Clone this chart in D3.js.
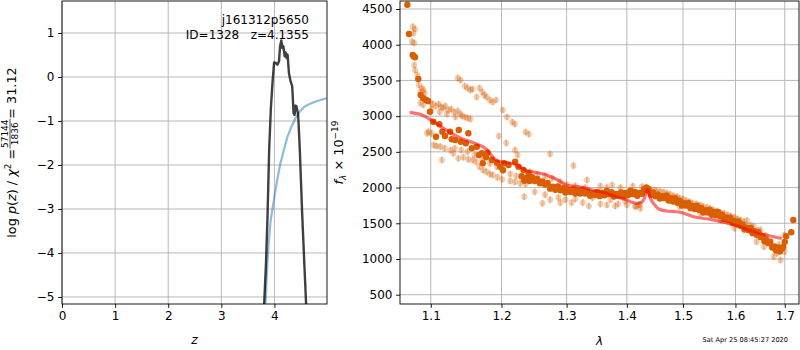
<!DOCTYPE html>
<html><head><meta charset="utf-8">
<script src="https://cdn.jsdelivr.net/npm/d3@7/dist/d3.min.js"></script>
<style>
body{margin:0;background:#fff}
svg{display:block}
text{font-family:"DejaVu Sans",sans-serif;fill:#000}
</style>
</head><body>
<svg id="c" width="800" height="350"></svg>
<script>
// ---------------- data ----------------
// left panel: log p(z) curve (z, value)
const pzZ   = [3.78,3.807,3.839,3.870,3.901,3.932,3.963,3.994,4.025,4.056,4.087,4.106,4.130,4.149,4.168,4.193,4.211,4.230,4.248,4.273,4.304,4.335,4.348,4.360,4.379,4.398,4.416,4.447,4.478,4.522,4.565,4.596,4.62];
const pzVal = [-6.5,-5.15,-4.30,-3.17,-1.65,-0.74,-0.14,0.33,0.32,0.28,0.36,0.70,0.83,0.66,0.70,0.47,0.56,0.43,0.51,0.09,-0.10,-0.21,-0.52,-0.82,-0.86,-0.65,-0.67,-0.86,-1.65,-3.09,-4.30,-5.15,-5.9];
// left panel: prior-like blue curve
const blZ   = [3.81,3.83,3.86,3.89,3.93,3.99,4.05,4.11,4.18,4.24,4.32,4.40,4.48,4.56,4.65,4.75,4.85,4.99];
const blVal = [-6.0,-5.2,-4.4,-3.8,-3.25,-2.80,-2.35,-1.98,-1.65,-1.38,-1.13,-0.93,-0.78,-0.68,-0.62,-0.57,-0.53,-0.48];
const zTicks = [0,1,2,3,4];
const lpTicks = [-5,-4,-3,-2,-1,0,1];

// right panel: dark (good) spectrum points [wavelength (um), flux]
const darkW = [1.0688,1.0710,1.0759,1.0789,1.0770,1.0833,1.0865,1.0900,1.0936,1.0962,1.0990,1.1035,1.1117,1.1158,1.1072,1.1195,1.1265,1.1288,1.1334,1.1386,1.1414,1.1485,1.1521,1.1570,1.1641,1.1670,1.1713,1.1775,1.1794,1.1727,1.1858,1.1932,1.1981,1.2039,1.2020,1.2104,1.2203,1.2253,1.2329,1.2370,1.2405,
1.230,1.234,1.238,1.242,1.246,1.250,1.254,1.258,1.262,1.266,1.270,1.274,1.278,1.282,1.286,1.290,1.294,1.298,1.302,1.306,1.310,1.314,1.318,1.322,1.326,1.330,1.334,1.338,1.342,1.346,1.350,1.354,1.358,1.362,1.366,1.370,1.374,1.378,1.382,1.386,1.390,1.394,1.398,1.402,1.406,1.410,1.414,1.418,1.422,1.426,1.430,1.434,1.436,1.438,1.442,1.446,1.450,1.454,1.458,1.462,1.466,1.470,1.474,1.478,1.482,1.486,1.490,1.494,1.498,1.502,1.506,1.510,1.514,1.518,1.522,1.526,1.530,1.534,1.538,1.542,1.546,1.550,1.554,1.558,1.562,1.566,1.570,1.574,1.578,1.582,1.586,1.590,1.594,1.598,1.602,1.606,1.610,1.614,1.618,1.622,1.626,1.630,1.634,1.638,1.642,1.646,1.650,1.654,1.658,1.662,1.666,1.670,1.674,1.678,1.682,1.686,1.690,1.694,1.697,1.700,1.703,1.7137,1.7179];
const darkF = [4560,4150,3856,3824,3840,3520,3296,3250,3226,3212,3062,2922,2886,2782,2712,2722,2782,2676,2666,2806,2642,2620,2760,2550,2572,2456,2480,2424,2488,2340,2386,2348,2292,2340,2246,2316,2362,2292,2246,2130,2200,
2158,2095,2132,2093,2145,2093,2120,2061,2085,2042,2063,1985,2012,1968,2015,1963,1990,1931,1965,1937,1978,1917,1956,1918,1970,1918,1945,1886,1922,1896,1939,1880,1924,1893,1953,1908,1935,1876,1912,1887,1933,1878,1924,1896,1955,1908,1940,1886,1925,1912,1978,2000,1960,1982,1898,1933,1878,1905,1846,1880,1852,1888,1820,1852,1806,1850,1788,1812,1750,1780,1747,1783,1712,1744,1700,1747,1690,1714,1652,1683,1652,1688,1620,1657,1613,1660,1600,1620,1558,1583,1546,1578,1506,1534,1486,1527,1466,1482,1416,1441,1404,1436,1362,1390,1338,1375,1308,1320,1248,1267,1222,1243,1160,1177,1120,1160,1106,1148,1170,1240,1320,1374,1546];
const darkE = 22;

// right panel: faint (contaminated / other) spectrum points
const lightW = [1.076,1.079,1.077,1.075,1.078,1.078,1.079,1.082,1.084,1.088,1.086,1.090,1.092,1.086,1.090,
1.095,1.099,1.103,1.107,1.111,1.114,1.117,1.120,1.124,1.128,1.132,1.137,1.141,1.143,1.147,1.151,1.155,1.134,1.122,1.112,1.101,1.097,1.095,1.101,
1.137,1.141,1.147,1.151,1.155,1.158,1.164,1.168,1.172,1.175,1.178,1.183,1.187,1.192,1.202,1.208,1.216,1.220,1.236,1.241,1.196,1.207,1.220,1.224,
1.104,1.108,1.113,1.119,1.127,1.131,1.138,1.145,1.152,1.158,1.163,1.168,1.173,1.178,1.183,1.187,1.194,1.201,1.213,1.220,1.228,1.236,1.115,
1.133,1.142,1.151,1.161,1.172,1.183,1.193,1.203,1.213,1.222,
1.274,1.311,1.333,1.375,1.234,1.262,1.290,1.308,1.336,1.366,1.380,1.400,1.415,1.420,
1.243,1.254,1.266,1.277,1.290,1.300,1.314,1.330,1.355,1.366,1.389,1.410,1.250,1.266,1.274,1.287,1.298,1.314,1.326,1.342,1.355,1.372,1.385,1.397,1.415,1.423,
1.426,1.447,1.459,1.471,1.483,1.494,1.506,1.518,1.5325,1.545,1.557,1.571,1.585,1.598,1.610,1.623,1.636,1.650,
1.4235,1.494,1.5325,1.571,1.598,1.617,1.642,1.657,1.677,1.691,1.700,1.699,
1.453,1.465,1.477,1.489,1.500,1.512,1.525,1.538,1.551,1.564,1.578,1.591,1.604,1.617,1.630,1.644,1.660,1.668,1.684,1.688];
const lightF = [4252,4220,4164,4042,4024,3716,3646,3576,3436,3394,3338,3366,3324,3184,3156,
3226,3198,3170,3142,3170,3128,3114,3142,3086,3100,3058,3072,3030,3002,2988,2974,2960,2988,3030,3058,3100,2782,2760,2760,
3534,3506,3422,3394,3366,3380,3268,3394,3338,3296,3268,3226,3198,3226,3086,2988,2918,2890,2778,2750,2722,2624,2526,2456,
2596,2582,2572,2550,2526,2480,2410,2424,2396,2386,2362,2292,2246,2222,2190,2176,2144,2116,2092,2078,2060,2050,2386,
2550,2526,2502,2456,2396,2340,2292,2236,2190,2162,
2470,2306,2106,2036,1872,1780,1788,1788,1742,1756,1742,1756,1732,1756,
2220,2180,2160,2130,2080,2040,2025,2000,2020,2000,2000,2020,1940,1900,1830,1860,1830,1840,1790,1860,1770,1830,1770,1810,1740,1760,
2012,1966,1942,1920,1882,1850,1816,1780,1756,1724,1686,1648,1616,1584,1546,1536,1452,1406,
1710,1732,1640,1546,1430,1406,1242,1172,1032,986,1102,1336,
1950,1935,1905,1870,1840,1800,1770,1735,1705,1670,1640,1600,1560,1520,1470,1400,1330,1230,1080,1200];
const lightE = 50;

// model (red) line
const modW = [1.072,1.086,1.099,1.113,1.127,1.140,1.158,1.173,1.180,1.186,1.193,1.200,1.218,1.238,1.250,1.264,1.274,1.286,1.301,1.322,1.344,1.365,1.385,1.400,1.410,1.418,1.4235,1.430,1.436,1.441,1.447,1.456,1.470,1.488,1.500,1.518,1.554,1.575,1.600,1.620,1.640,1.669,1.694];
const modF = [3054,3025,2955,2860,2770,2700,2630,2570,2520,2440,2380,2360,2335,2236,2215,2190,2155,2106,2030,2008,1960,1920,1865,1826,1790,1780,1788,1840,1975,1850,1775,1700,1672,1662,1645,1595,1552,1520,1472,1425,1372,1322,1287];

const lamTicks = [1.1,1.2,1.3,1.4,1.5,1.6,1.7];
const fTicks = [500,1000,1500,2000,2500,3000,3500,4000,4500];

const title1 = "j161312p5650";
const title2 = "ID=1328\u00a0\u00a0\u00a0z=4.1355";
const stamp = "Sat Apr 25 08:45:27 2020";

// ---------------- drawing ----------------
const svg = d3.select("#c");
const FS = 12;
const minus = d => (d < 0 ? "\u2212" + Math.abs(d) : String(d));

function panel(x0, x1, y0, y1, xs, ys, xt, yt, xfmt, yfmt, clipId) {
  const g = svg.append("g");
  g.append("g").selectAll("line").data(xt).join("line")
    .attr("x1", d => xs(d)).attr("x2", d => xs(d)).attr("y1", y0).attr("y2", y1)
    .attr("stroke", "#b0b0b0").attr("stroke-width", 0.9);
  g.append("g").selectAll("line").data(yt).join("line")
    .attr("y1", d => ys(d)).attr("y2", d => ys(d)).attr("x1", x0).attr("x2", x1)
    .attr("stroke", "#b0b0b0").attr("stroke-width", 0.9);
  const ax = g.append("g").attr("transform", `translate(0,${y1})`)
    .call(d3.axisBottom(xs).tickValues(xt).tickFormat(xfmt).tickSize(3.9).tickPadding(3.6));
  const ay = g.append("g").attr("transform", `translate(${x0},0)`)
    .call(d3.axisLeft(ys).tickValues(yt).tickFormat(yfmt).tickSize(3.9).tickPadding(3.6));
  [ax, ay].forEach(a => {
    a.select(".domain").remove();
    a.selectAll("text").attr("font-size", FS).attr("font-family", "DejaVu Sans").attr("fill", "#000");
    a.selectAll("line").attr("stroke", "#000").attr("stroke-width", 0.9);
  });
  svg.append("defs").append("clipPath").attr("id", clipId)
    .append("rect").attr("x", x0).attr("y", y0).attr("width", x1 - x0).attr("height", y1 - y0);
  const plot = svg.append("g").attr("clip-path", `url(#${clipId})`);
  return {g, plot};
}

// ---- left panel
const L = {x0: 62, x1: 327, y0: 1, y1: 304};
const xL = d3.scaleLinear().domain([0, 4.99]).range([L.x0, L.x1]);
const yL = d3.scaleLinear().domain([-5.16, 1.727]).range([L.y1, L.y0]);
const left = panel(L.x0, L.x1, L.y0, L.y1, xL, yL, zTicks, lpTicks, d => String(d), minus, "clipL");

const line = d3.line();
left.plot.append("path")
  .attr("d", line(blZ.map((z, i) => [xL(z), yL(blVal[i])])))
  .attr("fill", "none").attr("stroke", "#1f77b4").attr("stroke-opacity", 0.5).attr("stroke-width", 2.2);
left.plot.append("path")
  .attr("d", line(pzZ.map((z, i) => [xL(z), yL(pzVal[i])])))
  .attr("fill", "none").attr("stroke", "#000").attr("stroke-opacity", 0.75).attr("stroke-width", 2.4)
  .attr("stroke-linejoin", "round");

left.g.append("rect").attr("x", L.x0).attr("y", L.y0).attr("width", L.x1 - L.x0).attr("height", L.y1 - L.y0)
  .attr("fill", "none").attr("stroke", "#000").attr("stroke-width", 0.9);

svg.append("text").attr("x", 309).attr("y", 24).attr("text-anchor", "end").attr("font-size", FS).text(title1);
svg.append("text").attr("x", 309).attr("y", 39).attr("text-anchor", "end").attr("font-size", FS).text(title2);

svg.append("text").attr("x", (L.x0 + L.x1) / 2).attr("y", 344).attr("text-anchor", "middle")
  .attr("font-size", FS).attr("font-style", "italic").text("z");

// left y label with fraction (rotated)
(function () {
  const F = 12.8;
  const g = svg.append("g").attr("transform", `translate(16,${(L.y0 + L.y1) / 2}) rotate(-90)`);
  const inner = g.append("g");
  const t1 = inner.append("text").attr("font-size", F).attr("x", 0).attr("y", 0);
  t1.append("tspan").text("log ");
  t1.append("tspan").attr("font-style", "italic").text("p");
  t1.append("tspan").text("(");
  t1.append("tspan").attr("font-style", "italic").text("z");
  t1.append("tspan").text(")  /  ");
  t1.append("tspan").attr("font-style", "italic").text("\u03c7");
  t1.append("tspan").attr("font-size", F * 0.7).attr("dy", -5.5).text("2");
  t1.append("tspan").attr("dy", 5.5).text(" = ");
  let w = t1.node().getComputedTextLength();
  const fs2 = F * 0.7;
  const num = inner.append("text").attr("font-size", fs2).attr("y", -7.8).attr("text-anchor", "middle").text("57144");
  const den = inner.append("text").attr("font-size", fs2).attr("y", 2.2).attr("text-anchor", "middle").text("1836");
  const fw = Math.max(num.node().getComputedTextLength(), den.node().getComputedTextLength()) + 1.5;
  num.attr("x", w + fw / 2); den.attr("x", w + fw / 2);
  inner.append("line").attr("x1", w).attr("x2", w + fw).attr("y1", -6).attr("y2", -6)
    .attr("stroke", "#000").attr("stroke-width", 0.7);
  w += fw;
  const t3 = inner.append("text").attr("font-size", F).attr("x", w).text(" = 31.12");
  w += t3.node().getComputedTextLength();
  inner.attr("transform", `translate(${-w / 2},0)`);
})();

// ---- right panel
const R = {x0: 400, x1: 799, y0: 1, y1: 304};
const xR = d3.scaleLog().domain([1.0592, 1.730]).range([R.x0, R.x1]);
const yR = d3.scaleLinear().domain([370, 4612]).range([R.y1, R.y0]);
const right = panel(R.x0, R.x1, R.y0, R.y1, xR, yR, lamTicks, fTicks, d => d3.format(".1f")(d), d => String(d), "clipR");

const col = "#d95f02";
const lightPts = lightW.map((w, i) => [w, lightF[i]]);
const darkPts = darkW.map((w, i) => [w, darkF[i]]);

const lg = right.plot.append("g").attr("opacity", 0.3);
lg.selectAll("line").data(lightPts).join("line")
  .attr("x1", d => xR(d[0])).attr("x2", d => xR(d[0]))
  .attr("y1", d => yR(d[1] - lightE)).attr("y2", d => yR(d[1] + lightE))
  .attr("stroke", col).attr("stroke-width", 1.6);
right.plot.append("g").selectAll("circle").data(lightPts).join("circle")
  .attr("cx", d => xR(d[0])).attr("cy", d => yR(d[1])).attr("r", 3.1)
  .attr("fill", col).attr("fill-opacity", 0.3);

right.plot.append("g").selectAll("line").data(darkPts).join("line")
  .attr("x1", d => xR(d[0])).attr("x2", d => xR(d[0]))
  .attr("y1", d => yR(d[1] - darkE)).attr("y2", d => yR(d[1] + darkE))
  .attr("stroke", col).attr("stroke-width", 1.4);
right.plot.append("g").selectAll("circle").data(darkPts).join("circle")
  .attr("cx", d => xR(d[0])).attr("cy", d => yR(d[1])).attr("r", 3.2)
  .attr("fill", col);

right.plot.append("path")
  .attr("d", d3.line().curve(d3.curveMonotoneX)(modW.map((w, i) => [xR(w), yR(modF[i])])))
  .attr("fill", "none").attr("stroke", "red").attr("stroke-opacity", 0.55).attr("stroke-width", 3.2)
  .attr("stroke-linejoin", "round");

svg.append("rect").attr("x", R.x0).attr("y", R.y0).attr("width", R.x1 - R.x0).attr("height", R.y1 - R.y0)
  .attr("fill", "none").attr("stroke", "#000").attr("stroke-width", 0.9);

svg.append("text").attr("x", (R.x0 + R.x1) / 2).attr("y", 345).attr("text-anchor", "middle")
  .attr("font-size", FS).attr("font-style", "italic").text("\u03bb");

(function () {
  const F = 12.8;
  const g = svg.append("g").attr("transform", `translate(343,${(R.y0 + R.y1) / 2}) rotate(-90)`);
  const t = g.append("text").attr("font-size", F).attr("text-anchor", "middle");
  t.append("tspan").attr("font-style", "italic").text("f");
  t.append("tspan").attr("font-style", "italic").attr("font-size", F * 0.7).attr("dy", 2.5).text("\u03bb");
  t.append("tspan").attr("dy", -2.5).text(" \u00d7 10");
  t.append("tspan").attr("font-size", F * 0.7).attr("dy", -5.5).text("\u221219");
})();

svg.append("text").attr("x", 788).attr("y", 342).attr("text-anchor", "end")
  .attr("font-size", 6.6).text(stamp);
</script>
</body></html>
